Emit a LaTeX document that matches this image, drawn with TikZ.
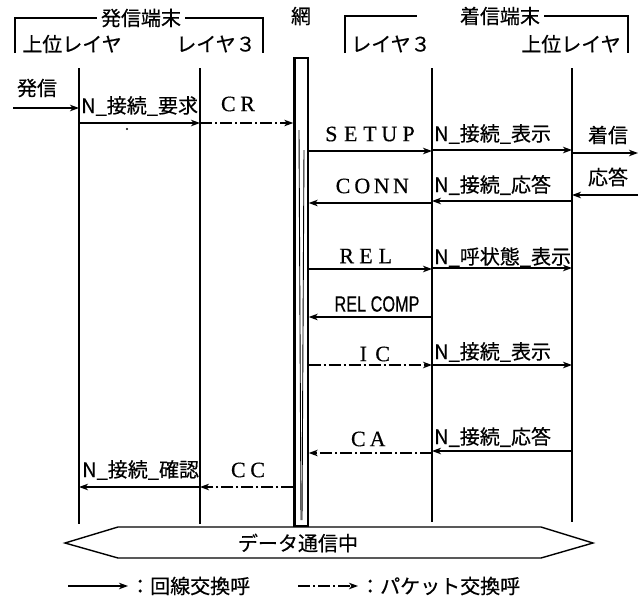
\documentclass[tikz,border=0pt]{standalone}
\usepackage{fontspec}
\setmainfont{Noto Sans CJK JP}[FakeBold=0.5]
\newfontfamily\latserif{Liberation Serif}[FakeBold=0.4]
\newfontfamily\condsans{Liberation Sans}[FakeStretch=0.74,FakeBold=0.4]
\usetikzlibrary{arrows.meta}
\newcommand\fwcell[1]{\makebox[19.3pt]{#1}}
\def\fwloop#1{\ifx#1\relax\else\fwcell{#1}\expandafter\fwloop\fi}
\newcommand\fwtext[1]{{\latserif\fontsize{22}{22}\selectfont\fwloop#1\relax}}
\tikzset{
  lbl/.style={inner sep=0pt, font=\fontsize{20}{24}\selectfont},
  msg/.style={line width=1.1pt, -{Stealth[length=9pt,width=6.5pt,inset=2.5pt]}},
  pkt/.style={msg, dash pattern=on 12pt off 3pt on 2pt off 3pt},
  life/.style={line width=1.4pt},
  frame/.style={line width=1.4pt},
}
\begin{document}
\begin{tikzpicture}[x=1pt,y=-1pt]
\useasboundingbox (0,0) rectangle (641,598);
% headers
\node[lbl, inner sep=4pt] (sT) at (141,18) {発信端末};
\draw[frame] (15,53) -- (15,18) -- (sT.west);
\draw[frame] (sT.east) -- (263,18) -- (263,53);
\node[lbl, inner sep=4pt] (rT) at (500,16) {着信端末};
\coordinate (rgap) at (417,16);
\draw[frame] (345,53) -- (345,16) -- (rgap);
\draw[frame] (rT.east) -- (628,16) -- (628,53);
\node[lbl] (net label) at (301,16) {網};
\node[lbl] (hA) at (72,44) {上位レイヤ};
\node[lbl] (hB) at (216,44) {レイヤ３};
\node[lbl] (hC) at (391,44) {レイヤ３};
\node[lbl] (hD) at (571,44) {上位レイヤ};
% lifelines
\coordinate (A) at (79,68);  \coordinate (Ab) at (79,524);
\coordinate (B) at (200,68); \coordinate (Bb) at (200,524);
\coordinate (C) at (432,68); \coordinate (Cb) at (432,522);
\coordinate (D) at (572,68); \coordinate (Db) at (572,522);
\draw[life] (A) -- (Ab);
\draw[life] (B) -- (Bb);
\draw[life] (C) -- (Cb);
\draw[life] (D) -- (Db);
% network bar
\node[draw, line width=1.4pt, minimum width=14pt, minimum height=468pt, inner sep=0pt] (net) at (301,292) {};
\draw[line width=3pt] ([xshift=1.5pt]net.north west) -- ([xshift=1.5pt]net.south west);
\draw[line width=0.9pt] (299,130) -- (301,520);
\draw[line width=0.9pt] (304,150) -- (302,520);
% free ends
\coordinate (L) at (13,0);
\coordinate (R) at (638,0);
% messages
\node[lbl] (t1) at (37,88) {発信};
\draw[msg] (L |- 0,108) -- (A |- 0,108);
\node[lbl, anchor=west] (t2) at (81,106) {N\_接続\_要求};
\draw[msg] (A |- 0,123) -- (B |- 0,123);
\fill (127,129) circle (1.1pt);
\node[lbl] (t3) at (238,104) {\fwtext{CR}};
\draw[pkt] (B |- 0,123) -- (net.west |- 0,123);
\node[lbl] (t4) at (370,134) {\fwtext{SETUP}};
\draw[msg] (net.east |- 0,151) -- (C |- 0,151);
\node[lbl, anchor=west] (t5) at (434,134) {N\_接続\_表示};
\draw[msg] (C |- 0,150) -- (D |- 0,150);
\node[lbl] (t6) at (608,135) {着信};
\draw[msg] (D |- 0,153) -- (R |- 0,153);
\node[lbl] (t7) at (372,186) {\fwtext{CONN}};
\draw[msg] (C |- 0,203) -- (net.east |- 0,203);
\node[lbl, anchor=west] (t8) at (434,185) {N\_接続\_応答};
\draw[msg] (D |- 0,201) -- (C |- 0,201);
\node[lbl] (t9) at (608,177) {応答};
\draw[msg] (R |- 0,195) -- (D |- 0,195);
\node[lbl] (t10) at (366,256) {\fwtext{REL}};
\draw[msg] (net.east |- 0,269) -- (C |- 0,269);
\node[lbl, anchor=west] (t11) at (434,257) {N\_呼状態\_表示};
\draw[msg] (C |- 0,268) -- (D |- 0,268);
\node[lbl, font=\fontsize{22}{24}\selectfont] (t12) at (377,304) {\condsans REL COMP};
\draw[msg] (C |- 0,317) -- (net.east |- 0,317);
\node[lbl] (t13) at (373,354) {\fwtext{IC}};
\draw[pkt] (net.east |- 0,365) -- (C |- 0,365);
\node[lbl, anchor=west] (t14) at (434,352) {N\_接続\_表示};
\draw[msg] (C |- 0,365) -- (D |- 0,365);
\node[lbl] (t15) at (368,439) {\fwtext{CA}};
\draw[pkt] (C |- 0,453) -- (net.east |- 0,453);
\node[lbl, anchor=west] (t16) at (434,437) {N\_接続\_応答};
\draw[msg] (D |- 0,451) -- (C |- 0,451);
\node[lbl, anchor=west] (t17) at (82,470) {N\_接続\_確認};
\draw[msg] (B |- 0,487) -- (A |- 0,487);
\node[lbl] (t18) at (248,470) {\fwtext{CC}};
\draw[pkt] (net.west |- 0,487) -- (B |- 0,487);
% data phase
\draw[line width=1.4pt] (65,543) -- (118,527) -- (541,527) -- (593,543) -- (541,558) -- (118,558) -- cycle;
\node[lbl] (data) at (298,543) {データ通信中};
% legend
\coordinate (k1a) at (68,586); \coordinate (k1b) at (128,586);
\draw[msg] (k1a) -- (k1b);
\node[lbl, anchor=west] (k1t) at (130,586) {：回線交換呼};
\coordinate (k2a) at (298,586); \coordinate (k2b) at (358,586);
\draw[pkt] (k2a) -- (k2b);
\node[lbl, anchor=west] (k2t) at (360,586) {：パケット交換呼};
\end{tikzpicture}
\end{document}
